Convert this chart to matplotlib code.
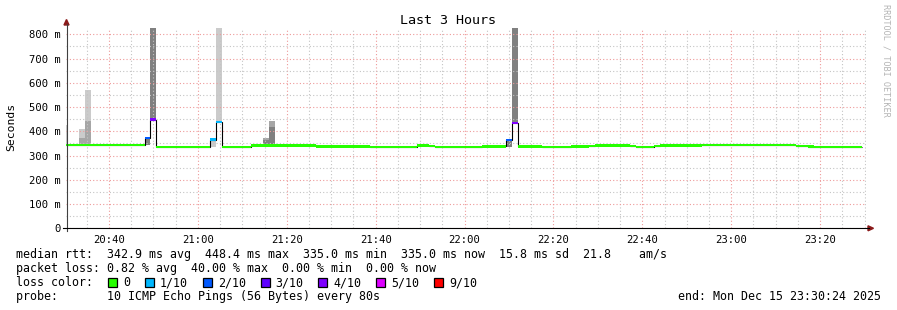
import matplotlib
matplotlib.use("Agg")
import matplotlib.pyplot as plt
from matplotlib.patches import Rectangle, Polygon
from matplotlib.lines import Line2D

# ------------------------------------------------------------------ data
STEP_S = 80                      # one RRD step = 80 s, counted from 20:00
# median rtt as runs: first step index of the run, median (ms), lost pings of 10
run_start_step = [22, 36, 37, 38, 47, 48, 49, 54, 65, 74, 82, 84, 85, 93, 97,
                  98, 99, 103, 108, 111, 112, 118, 119, 122, 123, 130, 146, 148, 149]
run_median_ms = [344, 372, 448.4, 336, 366, 438, 336, 341.5, 338, 335.5, 342, 339,
                 335, 337.5, 363, 435, 338, 335.5, 338, 339, 341.5, 338.5, 335,
                 338.5, 341.5, 342.5, 338.5, 336.5, 335]
run_loss = [0, 2, 4, 0, 1, 1, 0, 0, 0, 0, 0, 0, 0, 0, 2, 4, 0, 0, 0, 0, 0, 0, 0,
            0, 0, 0, 0, 0, 0]
data_end_step = 157

# smoke (ping spread) bands: step index, low / high (ms), layer 0 = outer
smoke_step = [22, 25, 25, 26, 26, 36, 37, 47, 48, 56, 56, 57, 57, 97, 98]
smoke_low_ms = [346, 371, 346, 441, 346, 345, 448, 335, 438, 363, 349, 416, 349, 335, 435]
smoke_high_ms = [425, 408, 371, 569, 441, 372, 1000, 365, 1000, 371, 363, 441, 416, 363, 1000]
smoke_layer = [0, 0, 1, 0, 1, 2, 2, 0, 0, 1, 2, 1, 2, 2, 2]

window_min = (30.4, 210.4)       # minutes after 20:00 (20:30:24 .. 23:30:24)
x_tick_min = [40, 60, 80, 100, 120, 140, 160, 180, 200]
x_tick_labels = ['20:40', '21:00', '21:20', '21:40', '22:00', '22:20', '22:40',
                 '23:00', '23:20']
y_tick_ms = [0, 100, 200, 300, 400, 500, 600, 700, 800]
y_tick_labels = ['0', '100 m', '200 m', '300 m', '400 m', '500 m', '600 m',
                 '700 m', '800 m']

title = 'Last 3 Hours'
y_label = 'Seconds'
stats_rtt = 'median rtt:  342.9 ms avg  448.4 ms max  335.0 ms min  335.0 ms now  15.8 ms sd  21.8    am/s'
stats_loss = 'packet loss: 0.82 % avg  40.00 % max  0.00 % min  0.00 % now'
loss_row_title = 'loss color:'
loss_levels = [0, 1, 2, 3, 4, 5, 9]
loss_labels = ['0', '1/10', '2/10', '3/10', '4/10', '5/10', '9/10']
probe_text = 'probe:       10 ICMP Echo Pings (56 Bytes) every 80s'
end_text = 'end: Mon Dec 15 23:30:24 2025'
watermark = 'RRDTOOL / TOBI OETIKER'

# ------------------------------------------------------------------ style
LOSS_COLOR = {0: '#26ff00', 1: '#00b8ff', 2: '#0059ff', 3: '#5e00ff',
              4: '#7e00ff', 5: '#dd00ff', 9: '#ff0000'}
SMOKE_COLOR = {0: '#cbcbcb', 1: '#a6a6a6', 2: '#808080'}
MONO = 'DejaVu Sans Mono'
W, H = 897, 310
STEP_MIN = STEP_S / 60.0


def fx(px):
    return px / W


def fy(py):
    return 1 - py / H


fig = plt.figure(figsize=(W / 100, H / 100), dpi=100)
fig.patch.set_facecolor('white')

ax_left, ax_right, ax_top, ax_bottom = 66.3, 866.3, 28.0, 228.3
ax = fig.add_axes([fx(ax_left), fy(ax_bottom), (ax_right - ax_left) / W,
                   (ax_bottom - ax_top) / H])
ax.set_xlim(*window_min)
ax.set_ylim(0, (ax_bottom - ax_top) / 0.2425)

# smoke
for k, lo, hi, layer in zip(smoke_step, smoke_low_ms, smoke_high_ms, smoke_layer):
    ax.bar(k * STEP_MIN, hi - lo, bottom=lo, width=STEP_MIN, align='edge',
           color=SMOKE_COLOR[layer], linewidth=0, zorder=2)

# median runs
edges = [k * STEP_MIN for k in run_start_step] + [data_end_step * STEP_MIN]
ax.stairs(run_median_ms, edges, baseline=None, color='black', linewidth=0.8,
          zorder=4)
band = 2.4 / 0.2425  # thickness of colored median bar (ms)
for i, (m, loss) in enumerate(zip(run_median_ms, run_loss)):
    ax.bar(edges[i], band, bottom=m - band / 2, width=edges[i + 1] - edges[i],
           align='edge', color=LOSS_COLOR[loss], linewidth=0, zorder=5)

# grid
ax.set_xticks(x_tick_min)
ax.set_xticklabels(x_tick_labels, fontfamily=MONO, fontsize=7.6)
ax.set_xticks([m for m in range(35, 211, 5)], minor=True)
ax.set_yticks(y_tick_ms)
ax.set_yticklabels(y_tick_labels, fontfamily=MONO, fontsize=7.6)
ax.set_yticks(list(range(50, 826, 50)), minor=True)
ax.tick_params(which='both', length=0)
ax.tick_params(axis='x', pad=4.5)
ax.tick_params(axis='y', pad=4.0)
ax.grid(which='major', color='#ee9a9a', linestyle=(0, (1, 2)), linewidth=0.8,
        zorder=3)
ax.grid(which='minor', color='#c4c4c4', linestyle=(0, (1, 2)), linewidth=0.8,
        zorder=3)
ax.set_axisbelow(False)
for s in ('top', 'right', 'left', 'bottom'):
    ax.spines[s].set_visible(False)

# axes lines and arrows
fig.add_artist(Line2D([fx(66.5), fx(66.5)], [fy(231), fy(24)], color='#404040',
                      linewidth=0.8))
fig.add_artist(Line2D([fx(63), fx(869)], [fy(228.3), fy(228.3)], color='black',
                      linewidth=0.8))
fig.add_artist(Polygon([[fx(64), fy(25)], [fx(69), fy(25)], [fx(66.5), fy(19.5)]],
                       closed=True, color='#8b1a1a', transform=fig.transFigure))
fig.add_artist(Polygon([[fx(868), fy(225.8)], [fx(868), fy(230.8)], [fx(873.5), fy(228.3)]],
                       closed=True, color='#8b1a1a', transform=fig.transFigure))

# texts
fig.text(fx(448), fy(24), title, ha='center', va='baseline', fontfamily=MONO,
         fontsize=9.6)
fig.text(fx(11), fy(127), y_label, ha='center', va='center', rotation=90,
         fontfamily=MONO, fontsize=8.2)
fig.text(fx(886), fy(4), watermark, ha='center', va='top', rotation=270,
         fontfamily=MONO, fontsize=6.1, color='#b4b4b4')

LEG = 8.4
fig.text(fx(16), fy(258), stats_rtt, ha='left', va='baseline', fontfamily=MONO,
         fontsize=LEG)
fig.text(fx(16), fy(272), stats_loss, ha='left', va='baseline', fontfamily=MONO,
         fontsize=LEG)
fig.text(fx(16), fy(286), loss_row_title, ha='left', va='baseline',
         fontfamily=MONO, fontsize=LEG)
bx = 108.0
for lvl, lab in zip(loss_levels, loss_labels):
    fig.add_artist(Rectangle((fx(bx), fy(286.5)), 9 / W, 9 / H,
                             facecolor=LOSS_COLOR[lvl], edgecolor='black',
                             linewidth=0.9, transform=fig.transFigure))
    fig.text(fx(bx + 15), fy(286), lab, ha='left', va='baseline',
             fontfamily=MONO, fontsize=LEG)
    bx += 15.5 + 7.05 * len(lab) + 14.2
fig.text(fx(16), fy(300), probe_text, ha='left', va='baseline', fontfamily=MONO,
         fontsize=LEG)
fig.text(fx(881), fy(300), end_text, ha='right', va='baseline', fontfamily=MONO,
         fontsize=LEG)

fig.savefig('out.png', dpi=100, facecolor='white')
